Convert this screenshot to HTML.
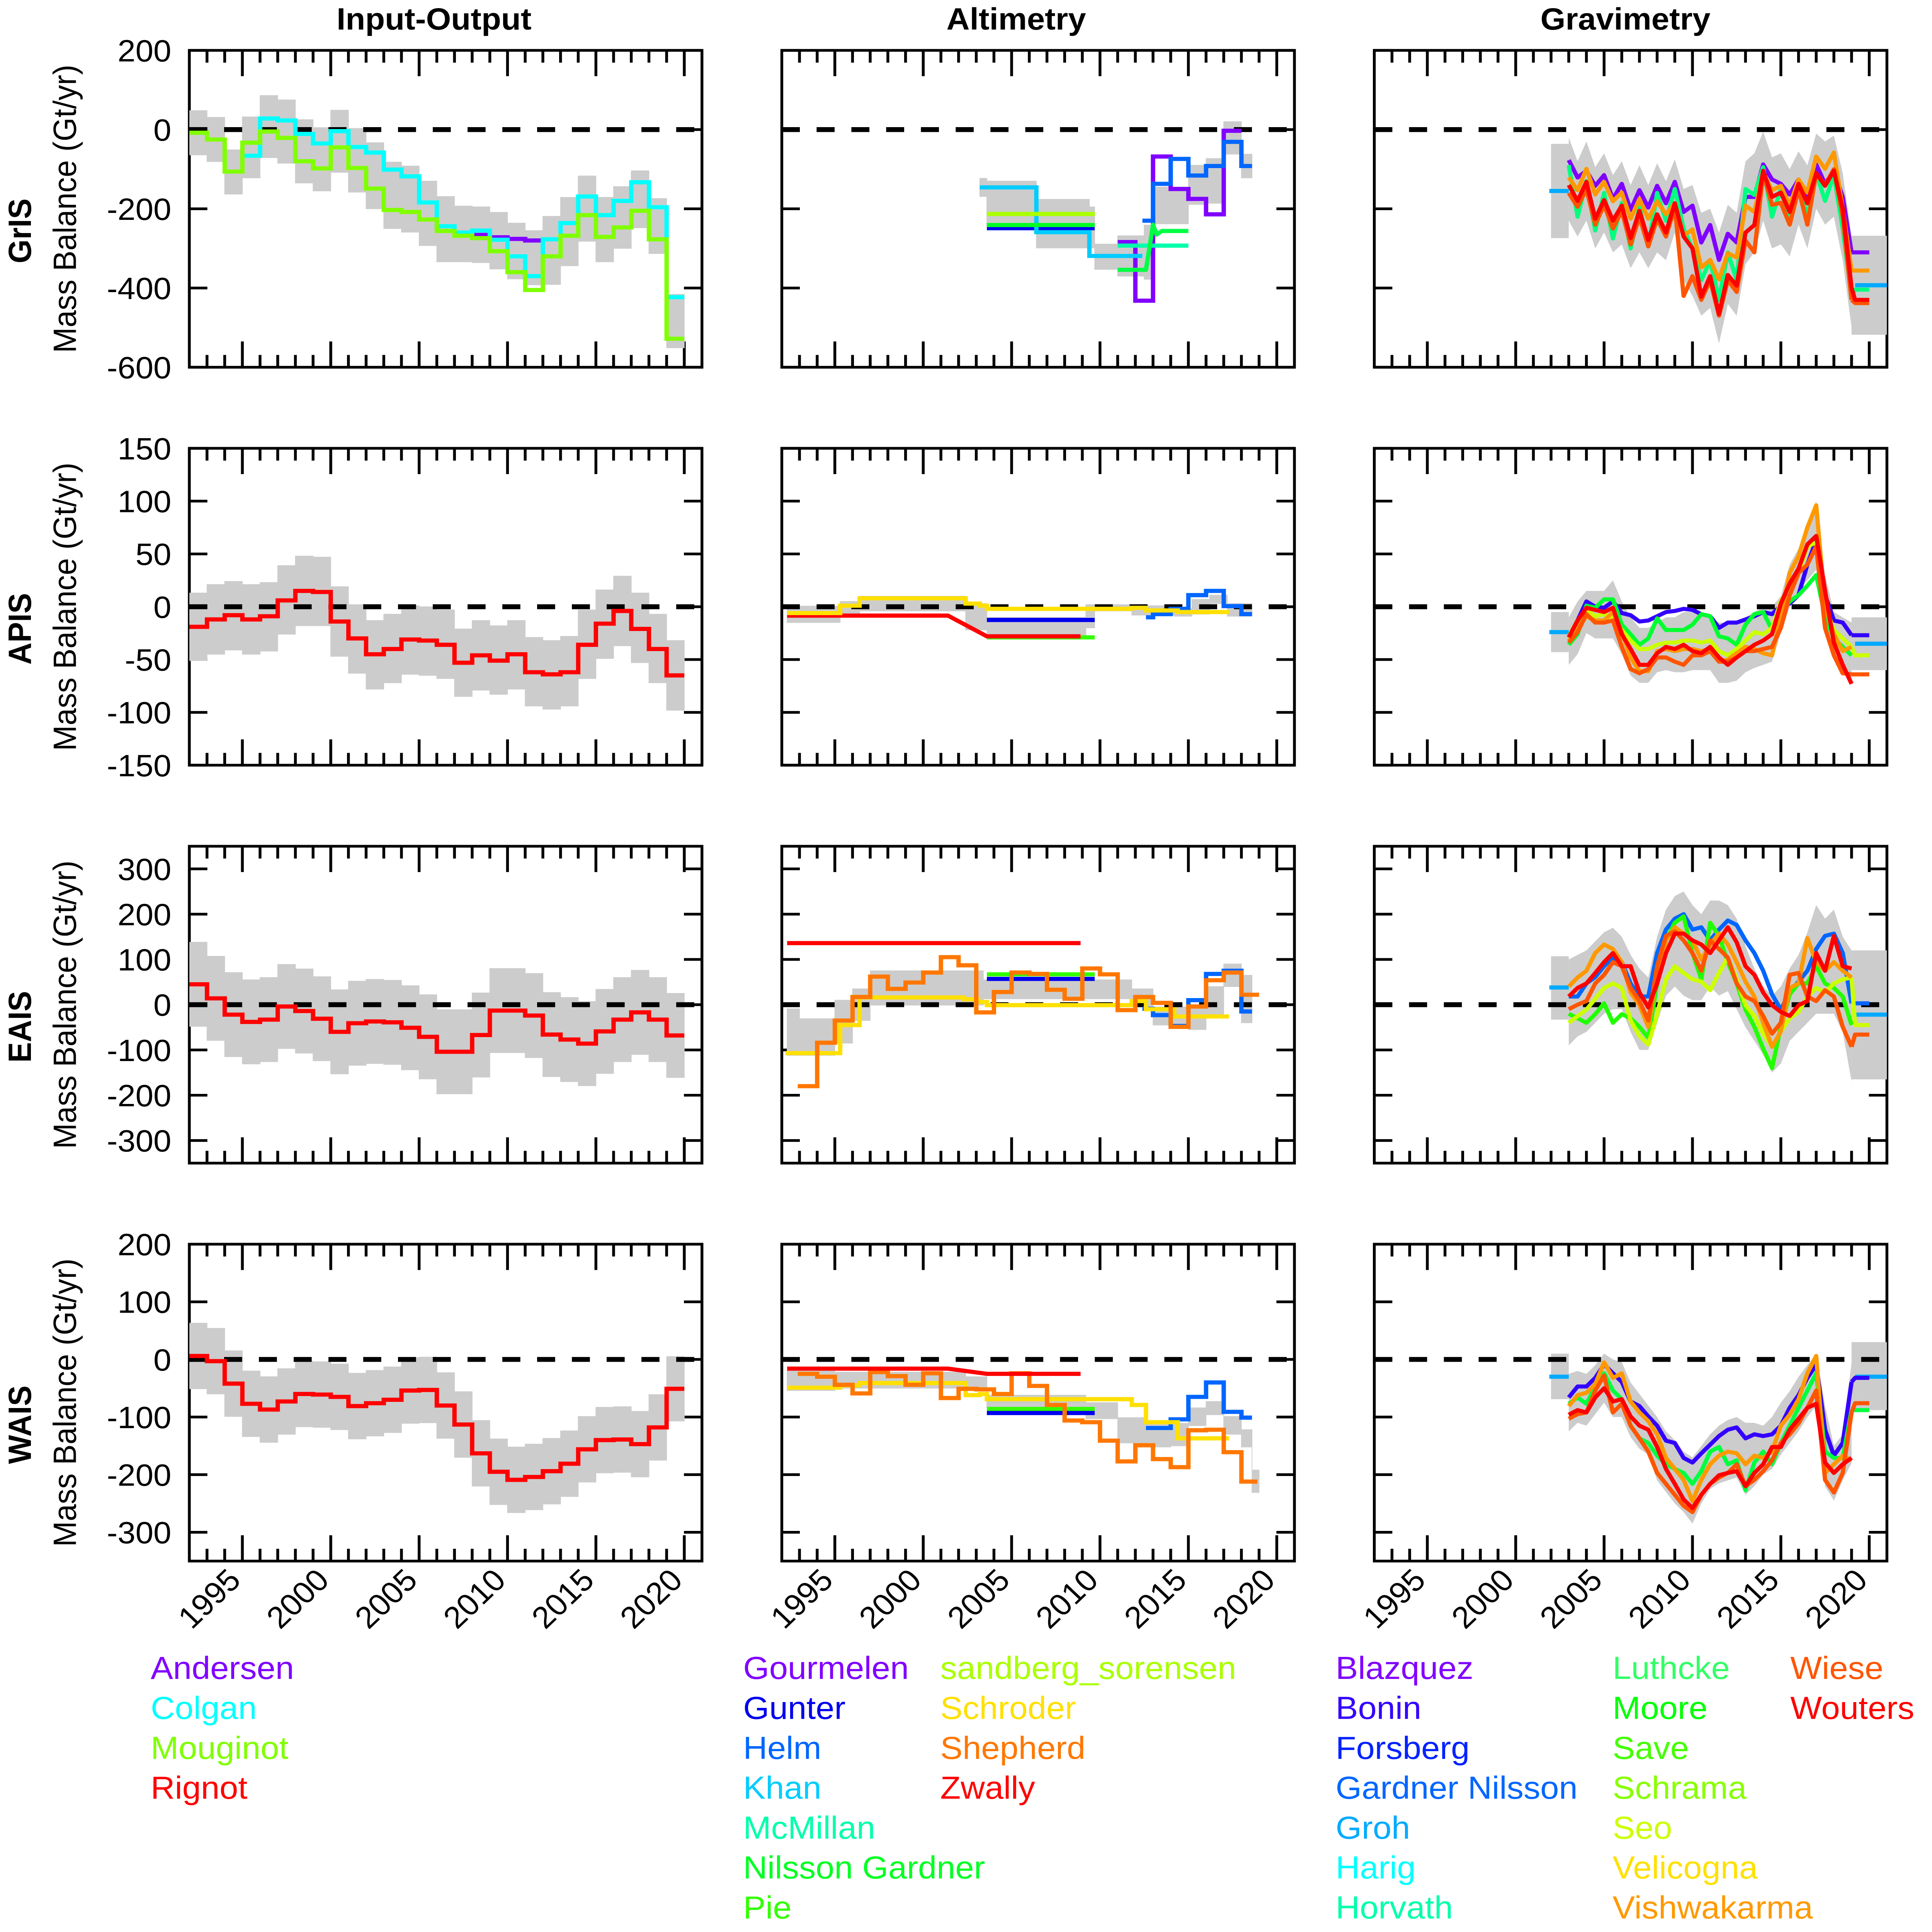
<!DOCTYPE html>
<html><head><meta charset="utf-8"><title>Mass balance</title>
<style>
html,body{margin:0;padding:0;background:#fff;overflow:hidden;width:100vw;height:100vh;}
svg#fig{display:block;width:100vw;height:100vh;font-family:"Liberation Sans",Arial,sans-serif;}
</style></head>
<body>
<svg id="fig" xmlns="http://www.w3.org/2000/svg" viewBox="0 0 1500 1573" preserveAspectRatio="none">
<rect x="0" y="0" width="1500" height="1573" fill="#fff"/>
<g font-weight="bold" font-size="25" text-anchor="middle">
<text x="337" y="24">Input-Output</text>
<text x="789" y="24">Altimetry</text>
<text x="1262" y="24">Gravimetry</text>
</g>
<g id="panels"></g>
<g font-size="26">
<text x="117" y="1367" fill="#8000FF">Andersen</text>
<text x="117" y="1399.5" fill="#00FFFF">Colgan</text>
<text x="117" y="1432" fill="#80FF00">Mouginot</text>
<text x="117" y="1464.5" fill="#FF0000">Rignot</text>
<text x="577" y="1367" fill="#8000FF">Gourmelen</text>
<text x="577" y="1399.5" fill="#0000EE">Gunter</text>
<text x="577" y="1432" fill="#0066FF">Helm</text>
<text x="577" y="1464.5" fill="#00CCFF">Khan</text>
<text x="577" y="1497" fill="#00FFAA">McMillan</text>
<text x="577" y="1529.5" fill="#00FF22">Nilsson Gardner</text>
<text x="577" y="1562" fill="#33FF00">Pie</text>
<text x="730" y="1367" fill="#AAFF00">sandberg_sorensen</text>
<text x="730" y="1399.5" fill="#FFE000">Schroder</text>
<text x="730" y="1432" fill="#FF7700">Shepherd</text>
<text x="730" y="1464.5" fill="#FF0000">Zwally</text>
<text x="1037" y="1367" fill="#8000FF">Blazquez</text>
<text x="1037" y="1399.5" fill="#3300FF">Bonin</text>
<text x="1037" y="1432" fill="#0022FF">Forsberg</text>
<text x="1037" y="1464.5" fill="#0066FF">Gardner Nilsson</text>
<text x="1037" y="1497" fill="#00AAFF">Groh</text>
<text x="1037" y="1529.5" fill="#00FFFF">Harig</text>
<text x="1037" y="1562" fill="#00FFAA">Horvath</text>
<text x="1252" y="1367" fill="#33FF66">Luthcke</text>
<text x="1252" y="1399.5" fill="#00FF00">Moore</text>
<text x="1252" y="1432" fill="#44FF00">Save</text>
<text x="1252" y="1464.5" fill="#88FF00">Schrama</text>
<text x="1252" y="1497" fill="#CCFF00">Seo</text>
<text x="1252" y="1529.5" fill="#FFE000">Velicogna</text>
<text x="1252" y="1562" fill="#FF9900">Vishwakarma</text>
<text x="1390" y="1367" fill="#FF5500">Wiese</text>
<text x="1390" y="1399.5" fill="#FF0000">Wouters</text>
</g>
</svg>
<script>
// ---------- axis / tick data ----------
const rowNames = ["GrIS","APIS","EAIS","WAIS"];
const yTickLabels = [[200,0,-200,-400,-600],[150,100,50,0,-50,-100,-150],[300,200,100,0,-100,-200,-300],[200,100,0,-100,-200,-300]];
const xTickYears = [1995,2000,2005,2010,2015,2020];
const yDomains = [[-600,200],[-150,150],[-350,350],[-350,200]];
const YEAR0 = 1992, YEAR1 = 2021;

// ---------- Input-Output (annual values, starting year given) ----------
const ioGrisMouginot = [-8,-25,-106,-33,-5,-21,-80,-98,-45,-97,-149,-203,-208,-227,-256,-268,-274,-307,-360,-405,-320,-268,-216,-271,-247,-205,-277,-528];
const ioGrisColgan = [-66,28,23,-11,-35,-4,-44,-58,-101,-118,-184,-244,-260,-255,-278,-320,-370,-277,-236,-169,-216,-180,-133,-196,-423];
const ioGrisAndersen = [-260,-266,-272,-276,-280];
const ioGrisBandHi = [48,31,-51,32,86,75,25,5,49,3,-33,-82,-92,-130,-169,-193,-195,-209,-236,-255,-219,-171,-117,-171,-144,-104,-174,-416];
const ioGrisBandLo = [-64,-81,-163,-122,-71,-85,-135,-155,-108,-158,-200,-250,-259,-293,-334,-334,-336,-352,-377,-392,-391,-344,-282,-334,-300,-248,-313,-551];
const ioApisRignot = [-19,-12,-8,-12,-9,6,15,14,-14,-30,-45,-40,-31,-32,-36,-53,-46,-51,-45,-62,-64,-62,-36,-16,-4,-21,-40,-65];
const ioApisBandHi = [13,21,24,21,23,39,48,47,19,2,-13,-7,1,0,-3,-21,-13,-18,-13,-29,-32,-28,-3,16,29,13,-7,-32];
const ioApisBandLo = [-51,-45,-41,-45,-42,-26,-18,-18,-47,-63,-78,-72,-64,-65,-68,-85,-79,-83,-78,-94,-97,-94,-68,-49,-37,-53,-72,-98];
const ioEaisRignot = [45,14,-22,-38,-33,-4,-14,-31,-60,-41,-37,-39,-51,-71,-104,-104,-67,-13,-13,-24,-66,-77,-86,-59,-33,-17,-33,-68];
const ioEaisErr = [93,93,93,93,93,93,93,93,93,93,93,93,93,93,93,93,93,93,93,93,93,93,93,93,93,93,93,93];
const ioWaisRignot = [6,-3,-42,-77,-87,-73,-60,-61,-65,-81,-76,-70,-54,-53,-80,-113,-163,-195,-209,-204,-194,-181,-156,-140,-139,-147,-118,-51];
const ioWaisErr = [57,57,57,57,57,57,57,57,57,57,57,57,57,57,57,57,57,57,57,57,57,57,57,57,57,57,57,56];

// ---------- Altimetry (step edges + values) ----------
const altGrisKhanE = [2003.2,2006.4,2009.4,2012.4], altGrisKhanV = [-146,-259,-319];
const altGrisSandbergE = [2003.6,2009.7], altGrisSandbergV = [-213];
const altGrisNilssonE = [2003.6,2009.7], altGrisNilssonV = [-241];
const altGrisGunterE = [2003.6,2009.7], altGrisGunterV = [-249];
const altGrisGourmelenE = [2011,2012,2013,2014,2015,2016,2017,2018], altGrisGourmelenV = [-284,-432,-68,-150,-175,-214,-3];
const altGrisHelmE = [2012.4,2013,2014,2015,2016,2017,2018,2018.6], altGrisHelmV = [-230,-137,-74,-116,-92,-31,-92];
const altGrisMcMillanE = [2011,2015], altGrisMcMillanV = [-293];
const altGrisPieYears = [2011,2012.6,2013,2013.2,2013.5,2015], altGrisPieV = [-354,-354,-240,-265,-256,-256];
const altGrisBandE = [2003.2,2003.6,2006.4,2009.4,2009.7,2011,2012.5,2013,2015,2016,2017,2018,2018.6];
const altGrisBandHi = [-123,-130,-176,-195,-289,-268,-241,-145,-90,-73,20,-62];
const altGrisBandLo = [-169,-245,-299,-299,-353,-370,-378,-238,-189,-186,-62,-122];

const altApisSchroderE = [1992.3,1995.3,1996.4,2002.4,2003.2,2003.6,2011.8,2012.6,2014.4,2017.3], altApisSchroderV = [-6,1,8,3,1,-2,-1,-3.5,-5];
const altApisZwallyYears = [1992.3,2001.4,2003.6,2008.9], altApisZwallyV = [-8.4,-8.4,-28,-28];
const altApisNilssonE = [2003.6,2009.7], altApisNilssonV = [-29];
const altApisGunterE = [2003.6,2009.7], altApisGunterV = [-12.5];
const altApisHelmE = [2012.6,2013,2014,2015,2016,2017,2018,2018.6], altApisHelmV = [-10,-7,-2,11,15,0.6,-7];
const altApisBandE = [1992.3,1995.3,1996.4,2002.4,2003.6,2009.2,2009.7,2011.8,2014.2,2015.2,2016.2,2017.2,2018.6];
const altApisBandHi = [0.6,5,10,3,-10,2,2,1,-2,7,11,3];
const altApisBandLo = [-15,-7,-4,-22,-27,-20,-4,-8,-9,-7,3,-9];

const altEaisZwallyE = [1992.3,2008.9], altEaisZwallyV = [136];
const altEaisSchroderE = [1992.2,1995.3,1996.4,2002.3,2003.1,2003.6,2011.8,2012.6,2014.2,2017.3], altEaisSchroderV = [-107,-45,16,12,6,-1,8,-10,-26];
const altEaisShepherdE = [1992.9,1994,1995,1996,1997,1998,1999,2000,2001,2002,2003,2004,2005,2006,2007,2008,2009,2010,2011,2012,2013,2014,2015,2016,2017,2018,2019];
const altEaisShepherdV = [-180,-84,-35,17,62,35,49,71,105,87,-17,28,71,68,33,13,80,67,-12,17,4,-49,-4,54,71,22];
const altEaisNilssonE = [2003.6,2009.7], altEaisNilssonV = [67];
const altEaisGunterE = [2003.6,2009.7], altEaisGunterV = [57];
const altEaisHelmE = [2012.4,2013,2014,2015,2016,2017,2018,2018.6], altEaisHelmV = [-9,-23,-47,10,68,75,-15];
const altEaisBandE = [1992.3,1993,1995,1996,1997,2003.4,2011.8,2013,2015,2016,2017,2018,2018.6];
const altEaisBandHi = [-9,-31,10,35,75,55,35,-5,0,40,90,65];
const altEaisBandLo = [-112,-112,-85,-35,-1,13,-5,-45,-55,-25,40,-40];

const altWaisZwallyYears = [1992.3,2001.4,2003.6,2008.9], altWaisZwallyV = [-16,-16,-25,-25];
const altWaisSchroderE = [1992.3,1995.3,1996.4,2002.4,2003.2,2003.6,2011.8,2012.6,2014.4,2017.3], altWaisSchroderV = [-49,-45,-41,-62,-60,-69,-79,-109,-137];
const altWaisShepherdE = [1992.9,1994,1995,1996,1997,1998,1999,2000,2001,2002,2003,2004,2005,2006,2007,2008,2009,2010,2011,2012,2013,2014,2015,2016,2017,2018,2018.9];
const altWaisShepherdV = [-25,-30,-44,-59,-22,-29,-44,-24,-67,-51,-52,-60,-24,-46,-79,-106,-109,-141,-177,-149,-173,-187,-123,-122,-161,-212];
const altWaisNilssonE = [2003.6,2009.7], altWaisNilssonV = [-86];
const altWaisGunterE = [2003.6,2009.7], altWaisGunterV = [-93];
const altWaisHelmE = [2012.6,2014,2015,2016,2017,2018,2018.6], altWaisHelmV = [-119,-104,-65,-40,-91,-101];
const altWaisBandE = [1992.3,1995,2002.4,2003.6,2009.2,2011,2012.6,2014,2015,2016,2017,2018,2018.6,2019];
const altWaisBandHi = [-20,-22,-30,-62,-75,-101,-113,-111,-84,-73,-99,-122,-192];
const altWaisBandLo = [-54,-50,-54,-84,-103,-145,-152,-150,-115,-96,-130,-152,-231];

// ---------- Gravimetry (half-year samples) ----------
const gravYears = [2003,2003.5,2004,2004.5,2005,2005.5,2006,2006.5,2007,2007.5,2008,2008.5,2009,2009.5,2010,2010.5,2011,2011.5,2012,2012.5,2013,2013.5,2014,2014.5,2015,2015.5,2016,2016.5,2017,2017.5,2018,2018.5,2019];

const gGrisBlazquez = [-77,-121,-104,-142,-115,-175,-137,-203,-153,-197,-142,-186,-132,-208,-192,-285,-241,-329,-263,-285,-170,-170,-88,-126,-137,-164,-126,-175,-88,-137,-104,-170,-310];
const gGrisMoore = [-90,-220,-130,-255,-160,-275,-185,-300,-195,-295,-160,-230,-150,-250,-300,-380,-330,-430,-310,-380,-150,-165,-95,-220,-150,-230,-140,-220,-110,-180,-115,-250,-420];
const gGrisVishwakarma = [-121,-153,-99,-164,-132,-181,-159,-225,-175,-225,-181,-214,-186,-268,-252,-348,-329,-378,-312,-323,-192,-208,-110,-153,-142,-192,-126,-159,-68,-99,-58,-200,-356];
const gGrisWiese = [-160,-195,-150,-240,-190,-250,-205,-290,-220,-295,-225,-270,-195,-420,-370,-430,-380,-470,-380,-410,-280,-310,-110,-190,-185,-240,-150,-240,-110,-140,-100,-220,-430];
const gGrisWouters = [-140,-180,-132,-225,-178,-230,-192,-274,-205,-279,-214,-260,-186,-270,-300,-422,-370,-466,-367,-394,-260,-241,-104,-170,-159,-208,-137,-186,-110,-142,-104,-200,-400];
const gGrisEnds = [-310,-404,-356,-438,-430];
const gGrisGroh = [-155,-393];
const gGrisBandHi = [-20,-80,-30,-95,-60,-115,-80,-140,-90,-140,-85,-130,-75,-150,-140,-210,-200,-260,-190,-210,-80,-60,-5,-70,-60,-100,-55,-90,-10,-30,-15,-110,-270];
const gGrisBandLo = [-230,-270,-230,-300,-260,-310,-290,-350,-310,-350,-310,-330,-260,-380,-420,-470,-450,-540,-440,-470,-340,-310,-230,-300,-290,-320,-240,-300,-200,-240,-220,-330,-500];
const gGrisBlocks = [-36,-274,-268,-518];

const gApisBonin = [-28,-13,5,0,-1,5,-6,-8,-14,-13,-9,-5,-4,-2,-3,-7,-9,-20,-15,-15,-12,-9,-5,-7,1,3,11,40,63,11,-13,-15,-27];
const gApisSeo = [-28,-13,-3,-9,-7,-11,-22,-32,-40,-40,-36,-34,-34,-32,-32,-34,-32,-42,-46,-40,-32,-24,-26,-20,5,20,32,57,61,1,-22,-30,-38];
const gApisMoore = [-36,-26,1,-1,7,7,-17,-26,-36,-30,-11,-22,-22,-22,-17,-7,-9,-28,-30,-36,-17,-7,-5,-22,-5,5,11,20,30,-9,-30,-38,-46];
const gApisVishwakarma = [-32,-20,-9,-13,-13,-5,-24,-48,-61,-61,-42,-40,-42,-40,-40,-42,-40,-52,-50,-44,-38,-40,-44,-46,-9,32,48,75,96,1,-26,-42,-38];
const gApisWiese = [-34,-24,-7,-15,-15,-13,-38,-59,-63,-59,-48,-48,-52,-55,-46,-46,-42,-52,-52,-48,-42,-42,-40,-38,-20,11,32,40,57,-20,-46,-63,-64];
const gApisWouters = [-29,-13,-1,-3,-5,-1,-26,-40,-55,-55,-44,-38,-40,-36,-42,-44,-38,-48,-55,-48,-42,-36,-32,-26,3,22,36,59,67,15,-34,-55,-73];
const gApisEnds = [-27,null,-46,null,-64,null];
const gApisGroh = [-24,-35];
const gApisBandHi = [-10,5,15,15,15,25,5,-10,-20,-20,-15,-10,-10,-5,-5,-5,-10,-15,-15,-15,-10,-5,0,0,10,40,55,75,100,30,-5,-10,-15];
const gApisBandLo = [-55,-45,-25,-30,-30,-30,-45,-65,-72,-72,-62,-60,-62,-62,-60,-60,-60,-72,-72,-70,-62,-58,-55,-52,-25,0,15,25,35,-15,-45,-60,-70];
const gApisBlocks = [-5,-43,-10,-60];

const gEaisGardner = [18,18,47,61,85,104,94,47,18,18,114,166,190,200,166,171,142,166,186,176,142,114,75,23,-11,27,51,75,123,152,157,114,3];
const gEaisSeo = [-40,-25,-11,13,37,47,37,-35,-69,-88,-21,56,85,70,56,51,32,70,104,56,-1,-25,-64,-93,-59,-30,-16,18,37,27,47,56,60];
const gEaisMoore = [-20,-30,-40,-21,3,-40,-21,-30,-49,-73,47,142,181,195,114,56,181,152,94,47,-11,-49,-97,-140,-49,23,47,47,85,47,37,18,-45];
const gEaisVishwakarma = [40,60,75,114,133,123,94,27,-1,-49,70,142,171,157,142,99,133,157,133,94,51,18,-40,-93,-59,37,47,147,94,75,94,75,60];
const gEaisWiese = [-10,0,8,47,66,94,85,37,8,-35,85,152,162,142,114,75,142,123,104,47,18,8,-25,-64,-40,66,70,18,8,32,18,-49,-93];
const gEaisWouters = [18,37,47,70,94,114,85,85,27,-6,47,114,157,157,142,133,114,142,171,138,85,66,27,-1,-16,-25,-1,8,114,75,152,85,80];
const gEaisEnds = [3,null,-45,null,-66,null];
const gEaisGroh = [38,-22];
const gEaisBandHi = [100,110,120,140,160,170,150,110,80,60,150,210,240,250,220,200,230,230,220,190,130,80,40,20,40,80,110,160,220,190,210,150,120];
const gEaisBandLo = [-90,-70,-60,-40,-20,-10,-10,-60,-100,-100,-40,20,40,20,10,10,40,20,30,-10,-50,-80,-110,-150,-130,-80,-60,-40,-20,-20,-20,-60,-170];
const gEaisBlocks = [107,-33,120,-165];

const gWaisBonin = [-66,-47,-47,-32,-9,-24,-39,-73,-81,-99,-115,-141,-145,-171,-179,-163,-148,-133,-122,-118,-137,-130,-133,-130,-115,-84,-62,-32,-9,-122,-167,-145,-39];
const gWaisMoore = [-77,-66,-77,-47,-24,-54,-69,-115,-137,-145,-167,-182,-190,-197,-216,-194,-160,-152,-182,-175,-227,-179,-160,-182,-145,-115,-84,-54,-24,-160,-171,-171,-88];
const gWaisVishwakarma = [-81,-62,-58,-43,-5,-32,-24,-73,-92,-107,-130,-171,-190,-209,-246,-209,-182,-167,-160,-163,-182,-167,-171,-160,-115,-96,-69,-24,6,-197,-182,-167,-175];
const gWaisWiese = [-103,-95,-92,-54,-28,-92,-77,-115,-137,-160,-197,-216,-235,-254,-265,-235,-216,-205,-197,-182,-220,-209,-194,-175,-145,-130,-111,-84,-54,-209,-231,-197,-92];
const gWaisWouters = [-96,-88,-92,-66,-50,-73,-69,-99,-115,-122,-152,-190,-216,-243,-258,-235,-216,-201,-197,-194,-220,-197,-182,-152,-152,-122,-103,-84,-77,-179,-197,-182,-171];
const gWaisEnds = [-32,-88,null,-76,null];
const gWaisGroh = [-30,-30];
const gWaisBandHi = [-25,-20,-25,-10,10,0,-5,-40,-60,-80,-100,-125,-140,-160,-170,-150,-130,-115,-105,-100,-110,-110,-115,-100,-75,-55,-30,-10,10,-80,-150,-130,-5];
const gWaisBandLo = [-125,-110,-115,-95,-75,-100,-100,-135,-155,-165,-210,-230,-250,-265,-285,-250,-225,-215,-210,-205,-235,-220,-200,-190,-165,-145,-125,-100,-80,-220,-245,-210,-180];
const gWaisBlocks = [10,-69,30,-88];

// ---------- geometry ----------
const COLX = [147,607,1067], ROWY = [41,365,689,1013], PW = 398, PH = 258;
const NS = "http://www.w3.org/2000/svg";
const root = document.getElementById("panels");
function sx(c, yr){ return COLX[c] + (yr - YEAR0) / (YEAR1 - YEAR0) * PW; }
function sy(r, v){ const d = yDomains[r]; return ROWY[r] + (d[1] - v) / (d[1] - d[0]) * PH; }
function mk(tag, attrs, parent){
  const e = document.createElementNS(NS, tag);
  for (const k in attrs) e.setAttribute(k, attrs[k]);
  (parent || root).appendChild(e);
  return e;
}
function fmt(n){ return n.toFixed(2); }

const defs = mk("defs", {});
for (let r = 0; r < 4; r++) for (let c = 0; c < 3; c++){
  const cp = mk("clipPath", {id: "clip" + r + c}, defs);
  mk("rect", {x: COLX[c], y: ROWY[r], width: PW, height: PH}, cp);
}
function layer(r, c, name){
  const g = mk("g", {"clip-path": "url(#clip" + r + c + ")"});
  
  
  return g;
}
function stepPoints(r, c, edges, vals){
  const pts = [];
  for (let i = 0; i < vals.length; i++){
    if (vals[i] === null) continue;
    pts.push(fmt(sx(c, edges[i])) + "," + fmt(sy(r, vals[i])));
    pts.push(fmt(sx(c, edges[i+1])) + "," + fmt(sy(r, vals[i])));
  }
  return pts;
}
function yearEdges(start, n){ const e = []; for (let i = 0; i <= n; i++) e.push(start + i); return e; }
function drawStep(g, r, c, edges, vals, color, name){
  const p = mk("polyline", {points: stepPoints(r, c, edges, vals).join(" "), fill: "none", stroke: color, "stroke-width": 3.4, "stroke-linejoin": "miter"}, g);
  
  
}
function drawLine(g, r, c, xs, vals, color, name, w){
  const pts = xs.map((x, i) => fmt(sx(c, x)) + "," + fmt(sy(r, vals[i])));
  const p = mk("polyline", {points: pts.join(" "), fill: "none", stroke: color, "stroke-width": w || 3.4, "stroke-linejoin": "round"}, g);
  
  
}
function drawStepBand(g, r, c, edges, hi, lo, name){
  const up = stepPoints(r, c, edges, hi);
  const dn = stepPoints(r, c, edges, lo).reverse();
  const p = mk("polygon", {points: up.concat(dn).join(" "), fill: "#CCCCCC", stroke: "#CCCCCC", "stroke-width": 0.5}, g);
  
  
}
function drawLineBand(g, r, c, xs, hi, lo, name){
  const up = xs.map((x, i) => fmt(sx(c, x)) + "," + fmt(sy(r, hi[i])));
  const dn = xs.map((x, i) => fmt(sx(c, x)) + "," + fmt(sy(r, lo[i]))).reverse();
  const p = mk("polygon", {points: up.concat(dn).join(" "), fill: "#CCCCCC", stroke: "none"}, g);
  
  
}
function drawZero(g, r, c){
  const z = mk("line", {x1: COLX[c], x2: COLX[c] + PW - 4, y1: sy(r, 0), y2: sy(r, 0), stroke: "#000", "stroke-width": 4, "stroke-dasharray": "14,13"}, g);
  
  
}

for (let r = 0; r < 4; r++){
  for (let c = 0; c < 3; c++){
    const fr = mk("rect", {x: COLX[c], y: ROWY[r], width: PW, height: PH, fill: "none", stroke: "#000", "stroke-width": 2.2});
    
    
    for (let yr = 1993; yr <= 2020; yr++){
      const len = (yr % 5 === 0) ? 21 : 10;
      const x = sx(c, yr);
      const t1 = mk("line", {x1: x, x2: x, y1: ROWY[r], y2: ROWY[r] + len, stroke: "#000", "stroke-width": 2.2});
      
      
      const t2 = mk("line", {x1: x, x2: x, y1: ROWY[r] + PH, y2: ROWY[r] + PH - len, stroke: "#000", "stroke-width": 2.2});
      
      
    }
    yTickLabels[r].forEach(v => {
      const y = sy(r, v);
      const a = mk("line", {x1: COLX[c], x2: COLX[c] + 14, y1: y, y2: y, stroke: "#000", "stroke-width": 2.2});
      
      
      const b = mk("line", {x1: COLX[c] + PW, x2: COLX[c] + PW - 14, y1: y, y2: y, stroke: "#000", "stroke-width": 2.2});
      
      
    });
    if (r === 3){
      xTickYears.forEach(yr => {
        const x = sx(c, yr);
        const t = mk("text", {x: x, y: 1288, "font-size": 25, "text-anchor": "end", transform: "rotate(-45 " + x + " 1288)"});
        t.textContent = String(yr);
        
        
      });
    }
  }
  yTickLabels[r].forEach(v => {
    const t = mk("text", {x: 133, y: sy(r, v) + 9, "font-size": 25, "text-anchor": "end"});
    t.textContent = String(v);
    
    
  });
  const cy = ROWY[r] + PH / 2;
  const yl = mk("text", {x: 59, y: cy, "font-size": 25, "text-anchor": "middle", transform: "rotate(-90 59 " + cy + ")"});
  yl.textContent = "Mass Balance (Gt/yr)";
  
  
  const ry = cy + 18;
  const rl = mk("text", {x: 24, y: ry, "font-size": 25, "font-weight": "bold", "text-anchor": "middle", transform: "rotate(-90 24 " + ry + ")"});
  rl.textContent = rowNames[r];
  
  
}

(function(){
  let g = layer(0, 0, "io-gris-plot");
  drawStepBand(g, 0, 0, yearEdges(1992, ioGrisBandHi.length), ioGrisBandHi, ioGrisBandLo, "io-gris-band");
  drawZero(g, 0, 0);
  drawStep(g, 0, 0, yearEdges(2007, ioGrisAndersen.length), ioGrisAndersen, "#8000FF", "io-gris-andersen");
  drawStep(g, 0, 0, yearEdges(1995, ioGrisColgan.length), ioGrisColgan, "#00FFFF", "io-gris-colgan");
  drawStep(g, 0, 0, yearEdges(1992, ioGrisMouginot.length), ioGrisMouginot, "#80FF00", "io-gris-mouginot");

  g = layer(1, 0, "io-apis-plot");
  drawStepBand(g, 1, 0, yearEdges(1992, ioApisBandHi.length), ioApisBandHi, ioApisBandLo, "io-apis-band");
  drawZero(g, 1, 0);
  drawStep(g, 1, 0, yearEdges(1992, ioApisRignot.length), ioApisRignot, "#FF0000", "io-apis-rignot");

  g = layer(2, 0, "io-eais-plot");
  drawStepBand(g, 2, 0, yearEdges(1992, ioEaisRignot.length), ioEaisRignot.map((v, i) => v + ioEaisErr[i]), ioEaisRignot.map((v, i) => v - ioEaisErr[i]), "io-eais-band");
  drawZero(g, 2, 0);
  drawStep(g, 2, 0, yearEdges(1992, ioEaisRignot.length), ioEaisRignot, "#FF0000", "io-eais-rignot");

  g = layer(3, 0, "io-wais-plot");
  drawStepBand(g, 3, 0, yearEdges(1992, ioWaisRignot.length), ioWaisRignot.map((v, i) => v + ioWaisErr[i]), ioWaisRignot.map((v, i) => v - ioWaisErr[i]), "io-wais-band");
  drawZero(g, 3, 0);
  drawStep(g, 3, 0, yearEdges(1992, ioWaisRignot.length), ioWaisRignot, "#FF0000", "io-wais-rignot");
})();

(function(){
  let g = layer(0, 1, "alt-gris-plot");
  drawStepBand(g, 0, 1, altGrisBandE, altGrisBandHi, altGrisBandLo, "alt-gris-band");
  drawZero(g, 0, 1);
  drawStep(g, 0, 1, altGrisGourmelenE, altGrisGourmelenV, "#8000FF", "alt-gris-gourmelen");
  drawStep(g, 0, 1, altGrisGunterE, altGrisGunterV, "#0000EE", "alt-gris-gunter");
  drawStep(g, 0, 1, altGrisHelmE, altGrisHelmV, "#0066FF", "alt-gris-helm");
  drawStep(g, 0, 1, altGrisKhanE, altGrisKhanV, "#00CCFF", "alt-gris-khan");
  drawStep(g, 0, 1, altGrisMcMillanE, altGrisMcMillanV, "#00FFAA", "alt-gris-mcmillan");
  drawStep(g, 0, 1, altGrisNilssonE, altGrisNilssonV, "#00FF22", "alt-gris-nilsson-gardner");
  drawLine(g, 0, 1, altGrisPieYears, altGrisPieV, "#00FF44", "alt-gris-pie");
  drawStep(g, 0, 1, altGrisSandbergE, altGrisSandbergV, "#AAFF00", "alt-gris-sandberg-sorensen");

  g = layer(1, 1, "alt-apis-plot");
  drawStepBand(g, 1, 1, altApisBandE, altApisBandHi, altApisBandLo, "alt-apis-band");
  drawZero(g, 1, 1);
  drawStep(g, 1, 1, altApisGunterE, altApisGunterV, "#0000EE", "alt-apis-gunter");
  drawStep(g, 1, 1, altApisHelmE, altApisHelmV, "#0066FF", "alt-apis-helm");
  drawStep(g, 1, 1, altApisNilssonE, altApisNilssonV, "#33FF00", "alt-apis-nilsson-gardner");
  drawLine(g, 1, 1, altApisZwallyYears, altApisZwallyV, "#FF0000", "alt-apis-zwally");
  drawStep(g, 1, 1, altApisSchroderE, altApisSchroderV, "#FFE000", "alt-apis-schroder");

  g = layer(2, 1, "alt-eais-plot");
  drawStepBand(g, 2, 1, altEaisBandE, altEaisBandHi, altEaisBandLo, "alt-eais-band");
  drawZero(g, 2, 1);
  drawStep(g, 2, 1, altEaisGunterE, altEaisGunterV, "#0000EE", "alt-eais-gunter");
  drawStep(g, 2, 1, altEaisHelmE, altEaisHelmV, "#0066FF", "alt-eais-helm");
  drawStep(g, 2, 1, altEaisNilssonE, altEaisNilssonV, "#33FF00", "alt-eais-nilsson-gardner");
  drawStep(g, 2, 1, altEaisSchroderE, altEaisSchroderV, "#FFE000", "alt-eais-schroder");
  drawStep(g, 2, 1, altEaisShepherdE, altEaisShepherdV, "#FF7700", "alt-eais-shepherd");
  drawStep(g, 2, 1, altEaisZwallyE, altEaisZwallyV, "#FF0000", "alt-eais-zwally");

  g = layer(3, 1, "alt-wais-plot");
  drawStepBand(g, 3, 1, altWaisBandE, altWaisBandHi, altWaisBandLo, "alt-wais-band");
  drawZero(g, 3, 1);
  drawStep(g, 3, 1, altWaisHelmE, altWaisHelmV, "#0066FF", "alt-wais-helm");
  drawStep(g, 3, 1, altWaisNilssonE, altWaisNilssonV, "#33FF00", "alt-wais-nilsson-gardner");
  drawStep(g, 3, 1, altWaisGunterE, altWaisGunterV, "#0000EE", "alt-wais-gunter");
  drawStep(g, 3, 1, altWaisSchroderE, altWaisSchroderV, "#FFE000", "alt-wais-schroder");
  drawStep(g, 3, 1, altWaisShepherdE, altWaisShepherdV, "#FF7700", "alt-wais-shepherd");
  drawLine(g, 3, 1, altWaisZwallyYears, altWaisZwallyV, "#FF0000", "alt-wais-zwally");
})();

function gravPanel(r, key, series, colors, names, ends, groh, hi, lo, blocks){
  const g = layer(r, 2, "grav-" + key + "-plot");
  const b1 = mk("rect", {x: sx(2, 2002.0), y: sy(r, blocks[0]), width: sx(2, 2003.0) - sx(2, 2002.0), height: sy(r, blocks[1]) - sy(r, blocks[0]), fill: "#CCCCCC"}, g);
  
  
  const b2 = mk("rect", {x: sx(2, 2019.0), y: sy(r, blocks[2]), width: sx(2, 2021.0) - sx(2, 2019.0), height: sy(r, blocks[3]) - sy(r, blocks[2]), fill: "#CCCCCC"}, g);
  
  
  drawLineBand(g, r, 2, gravYears, hi, lo, "grav-" + key + "-band");
  drawZero(g, r, 2);
  drawStep(g, r, 2, [2001.9, 2003.0], [groh[0]], "#00AAFF", "grav-" + key + "-groh-start");
  drawStep(g, r, 2, [2019.2, 2021.0], [groh[1]], "#00AAFF", "grav-" + key + "-groh-end");
  series.forEach((vals, i) => {
    drawLine(g, r, 2, gravYears, vals, colors[i], "grav-" + key + "-" + names[i], 3.3);
    if (ends[i] !== null) drawLine(g, r, 2, [2019.0, 2019.2, 2020.0], [vals[vals.length - 1], ends[i], ends[i]], colors[i], "grav-" + key + "-" + names[i] + "-end", 3.3);
  });
}
gravPanel(0, "gris", [gGrisBlazquez, gGrisMoore, gGrisVishwakarma, gGrisWiese, gGrisWouters], ["#8000FF","#00FF80","#FF9900","#FF5500","#FF0000"], ["blazquez","moore","vishwakarma","wiese","wouters"], gGrisEnds, gGrisGroh, gGrisBandHi, gGrisBandLo, gGrisBlocks);
gravPanel(1, "apis", [gApisBonin, gApisMoore, gApisSeo, gApisVishwakarma, gApisWiese, gApisWouters], ["#3300FF","#00FF30","#CCFF00","#FF9900","#FF5500","#FF0000"], ["bonin","moore","seo","vishwakarma","wiese","wouters"], gApisEnds, gApisGroh, gApisBandHi, gApisBandLo, gApisBlocks);
gravPanel(2, "eais", [gEaisGardner, gEaisMoore, gEaisSeo, gEaisVishwakarma, gEaisWiese, gEaisWouters], ["#0066FF","#22FF00","#CCFF00","#FF9900","#FF5500","#FF0000"], ["gardner-nilsson","moore","seo","vishwakarma","wiese","wouters"], gEaisEnds, gEaisGroh, gEaisBandHi, gEaisBandLo, gEaisBlocks);
gravPanel(3, "wais", [gWaisBonin, gWaisMoore, gWaisVishwakarma, gWaisWiese, gWaisWouters], ["#3300FF","#00FF40","#FF9900","#FF5500","#FF0000"], ["bonin","moore","vishwakarma","wiese","wouters"], gWaisEnds, gWaisGroh, gWaisBandHi, gWaisBandLo, gWaisBlocks);
</script>
</body></html>
